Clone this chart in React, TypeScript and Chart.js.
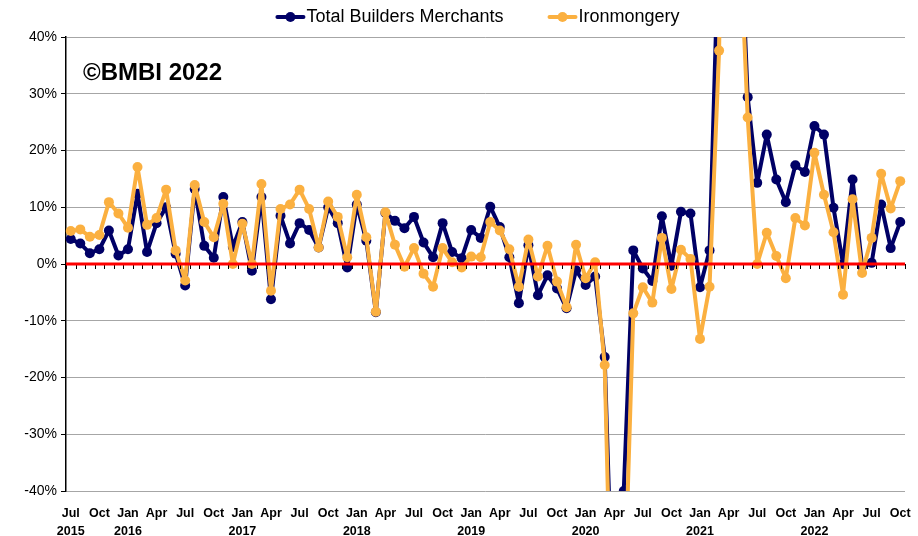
import React, { useEffect, useRef } from "react";
import { Chart, registerables } from "chart.js";

Chart.register(...registerables);

const categories = [
  "Jul 2015", "Aug 2015", "Sep 2015", "Oct 2015", "Nov 2015", "Dec 2015",
  "Jan 2016", "Feb 2016", "Mar 2016", "Apr 2016", "May 2016", "Jun 2016", "Jul 2016", "Aug 2016", "Sep 2016", "Oct 2016", "Nov 2016", "Dec 2016",
  "Jan 2017", "Feb 2017", "Mar 2017", "Apr 2017", "May 2017", "Jun 2017", "Jul 2017", "Aug 2017", "Sep 2017", "Oct 2017", "Nov 2017", "Dec 2017",
  "Jan 2018", "Feb 2018", "Mar 2018", "Apr 2018", "May 2018", "Jun 2018", "Jul 2018", "Aug 2018", "Sep 2018", "Oct 2018", "Nov 2018", "Dec 2018",
  "Jan 2019", "Feb 2019", "Mar 2019", "Apr 2019", "May 2019", "Jun 2019", "Jul 2019", "Aug 2019", "Sep 2019", "Oct 2019", "Nov 2019", "Dec 2019",
  "Jan 2020", "Feb 2020", "Mar 2020", "Apr 2020", "May 2020", "Jun 2020", "Jul 2020", "Aug 2020", "Sep 2020", "Oct 2020", "Nov 2020", "Dec 2020",
  "Jan 2021", "Feb 2021", "Mar 2021", "Apr 2021", "May 2021", "Jun 2021", "Jul 2021", "Aug 2021", "Sep 2021", "Oct 2021", "Nov 2021", "Dec 2021",
  "Jan 2022", "Feb 2022", "Mar 2022", "Apr 2022", "May 2022", "Jun 2022", "Jul 2022", "Aug 2022", "Sep 2022", "Oct 2022",
];

// Year-on-year % change
const totalBuildersMerchants = [
  4.4, 3.6, 1.9, 2.6, 5.9, 1.5,
  2.6, 12.4, 2.1, 7.2, 10.0, 1.8, -3.8, 13.2, 3.2, 1.1, 11.8, 3.0,
  7.4, -1.2, 11.8, -6.2, 8.5, 3.6, 7.2, 6.0, 2.9, 10.0, 7.2, -0.6,
  10.5, 4.1, -8.5, 9.0, 7.6, 6.3, 8.3, 3.8, 1.2, 7.2, 2.1, 1.0,
  6.0, 4.6, 10.1, 6.5, 1.2, -6.9, 3.3, -5.5, -2.0, -4.3, -7.8, -1.1,
  -3.7, -2.2, -16.4, -70.0, -40.0, 2.4, -0.8, -3.0, 8.4, -0.3, 9.2, 8.9,
  -4.1, 2.4, 60.0, 150.0, 70.0, 29.4, 14.3, 22.8, 14.9, 10.9, 17.4, 16.2,
  24.3, 22.8, 9.9, 0.0, 14.9, -0.4, 0.2, 10.5, 2.8, 7.4,
];

const ironmongery = [
  5.8, 6.1, 4.8, 5.1, 10.9, 8.9,
  6.4, 17.1, 6.9, 8.1, 13.1, 2.4, -2.9, 13.9, 7.4, 4.7, 10.6, 0.0,
  7.1, 0.0, 14.1, -4.7, 9.7, 10.5, 13.1, 9.7, 2.9, 11.0, 8.3, 1.2,
  12.2, 4.7, -8.4, 9.1, 3.4, -0.5, 2.8, -1.7, -4.0, 2.8, 0.3, -0.6,
  1.3, 1.2, 7.4, 5.9, 2.6, -4.0, 4.3, -2.2, 3.2, -3.1, -7.6, 3.4,
  -2.5, 0.3, -17.8, -85.0, -63.0, -8.7, -4.1, -6.8, 4.6, -4.4, 2.5, 0.9,
  -13.2, -4.0, 37.6, 150.0, 65.0, 25.8, 0.0, 5.5, 1.4, -2.5, 8.1, 6.8,
  19.6, 12.2, 5.6, -5.4, 11.4, -1.6, 4.6, 15.9, 9.8, 14.6,
];

const seriesNames = ["Total Builders Merchants", "Ironmongery"];
const seriesColors = ["#000066", "#FBB040"];
const yMin = -40;
const yMax = 40;
const yStep = 10;
const watermarkText = "\u00A9BMBI 2022";

const FONT = "'Liberation Sans', Arial, sans-serif";

const zeroLinePlugin = {
  id: "zeroLine",
  afterDatasetsDraw(chart: any) {
    const { ctx, chartArea, scales } = chart;
    const x = scales.x;
    const y = scales.y;
    const y0 = y.getPixelForValue(0);
    const n = chart.data.labels.length;
    const step = x.getPixelForValue(1) - x.getPixelForValue(0);
    ctx.save();
    ctx.strokeStyle = "#000";
    ctx.lineWidth = 1;
    ctx.beginPath();
    for (let i = 0; i <= n; i++) {
      const px = Math.round(x.getPixelForValue(i) - step / 2) + 0.5;
      ctx.moveTo(px, y0);
      ctx.lineTo(px, y0 + 5);
    }
    ctx.stroke();
    ctx.strokeStyle = "#FF0000";
    ctx.lineWidth = 3;
    ctx.beginPath();
    ctx.moveTo(chartArea.left, y0);
    ctx.lineTo(chartArea.right, y0);
    ctx.stroke();
    ctx.restore();
  },
};

const watermarkPlugin = {
  id: "watermark",
  afterDraw(chart: any) {
    const { ctx, chartArea } = chart;
    ctx.save();
    ctx.font = `bold 24px ${FONT}`;
    ctx.fillStyle = "#000";
    ctx.textAlign = "left";
    ctx.textBaseline = "middle";
    ctx.fillText(watermarkText, chartArea.left + 17, chartArea.top + 36);
    ctx.restore();
  },
};

const legendPlugin = {
  id: "customLegend",
  afterDraw(chart: any) {
    const { ctx, chartArea } = chart;
    const datasets = chart.data.datasets;
    ctx.save();
    ctx.font = `18px ${FONT}`;
    const markerW = 30;
    const gapAfterMarker = 1;
    const gapBetween = 44;
    const widths = datasets.map((d: any) => ctx.measureText(d.label).width);
    let total = 0;
    widths.forEach((w: number, i: number) => {
      total += markerW + gapAfterMarker + w + (i < widths.length - 1 ? gapBetween : 0);
    });
    let x = (chartArea.left + chartArea.right) / 2 - total / 2 - 8;
    const yc = 17;
    datasets.forEach((d: any, i: number) => {
      ctx.strokeStyle = d.borderColor;
      ctx.lineWidth = 4;
      ctx.lineCap = "round";
      ctx.beginPath();
      ctx.moveTo(x + 2, yc);
      ctx.lineTo(x + markerW - 2, yc);
      ctx.stroke();
      ctx.fillStyle = d.borderColor;
      ctx.beginPath();
      ctx.arc(x + markerW / 2, yc, 5, 0, Math.PI * 2);
      ctx.fill();
      x += markerW + gapAfterMarker;
      ctx.fillStyle = "#000";
      ctx.textAlign = "left";
      ctx.textBaseline = "middle";
      ctx.fillText(d.label, x, yc);
      x += widths[i] + gapBetween;
    });
    ctx.restore();
  },
};

export default function App() {
  const canvasRef = useRef<HTMLCanvasElement | null>(null);

  useEffect(() => {
    document.body.style.margin = "0";
    const canvas = canvasRef.current;
    if (!canvas) return;
    const lineStyle = {
      pointBorderWidth: 0,
      pointRadius: 5,
      borderWidth: 4,
      tension: 0,
      borderJoinStyle: "round" as const,
      borderCapStyle: "round" as const,
    };
    const chart = new Chart(canvas, {
      type: "line",
      data: {
        labels: categories,
        datasets: [
          {
            label: seriesNames[0],
            data: totalBuildersMerchants,
            borderColor: seriesColors[0],
            backgroundColor: seriesColors[0],
            pointBackgroundColor: seriesColors[0],
            order: 2,
            ...lineStyle,
          },
          {
            label: seriesNames[1],
            data: ironmongery,
            borderColor: seriesColors[1],
            backgroundColor: seriesColors[1],
            pointBackgroundColor: seriesColors[1],
            order: 1,
            ...lineStyle,
          },
        ],
      },
      options: {
        responsive: false,
        animation: false,
        layout: { padding: { top: 37, right: 13, bottom: 0, left: 0 } },
        plugins: {
          legend: { display: false },
          tooltip: { enabled: false },
        },
        scales: {
          x: {
            type: "category",
            offset: true,
            grid: { display: false, drawTicks: false },
            border: { display: false },
            afterFit: (scale: any) => {
              scale.height = 45;
              scale.paddingLeft = 0;
              scale.paddingRight = 0;
            },
            ticks: {
              autoSkip: false,
              maxRotation: 0,
              minRotation: 0,
              padding: 13,
              color: "#000",
              font: { family: FONT, size: 12.5, weight: "bold", lineHeight: 1.45 },
              callback: (_v: any, i: number) => {
                if (i % 3 !== 0) return "";
                const [m, yr] = categories[i].split(" ");
                if (m === "Jan" || i === 0) return [m, yr];
                return m;
              },
            },
          },
          y: {
            min: yMin,
            max: yMax,
            afterFit: (scale: any) => {
              scale.width = 66;
            },
            ticks: {
              stepSize: yStep,
              padding: 4,
              color: "#000",
              font: { family: FONT, size: 14 },
              callback: (v: any) => `${v}%`,
            },
            grid: {
              color: "#A6A6A6",
              lineWidth: 1,
              tickLength: 5,
              tickColor: "#000",
            },
            border: { color: "#000", width: 1.5 },
          },
        },
      },
      plugins: [zeroLinePlugin, watermarkPlugin, legendPlugin],
    });
    return () => chart.destroy();
  }, []);

  return (
    <div style={{ width: 918, height: 536 }}>
      <canvas ref={canvasRef} width={918} height={536} />
    </div>
  );
}
